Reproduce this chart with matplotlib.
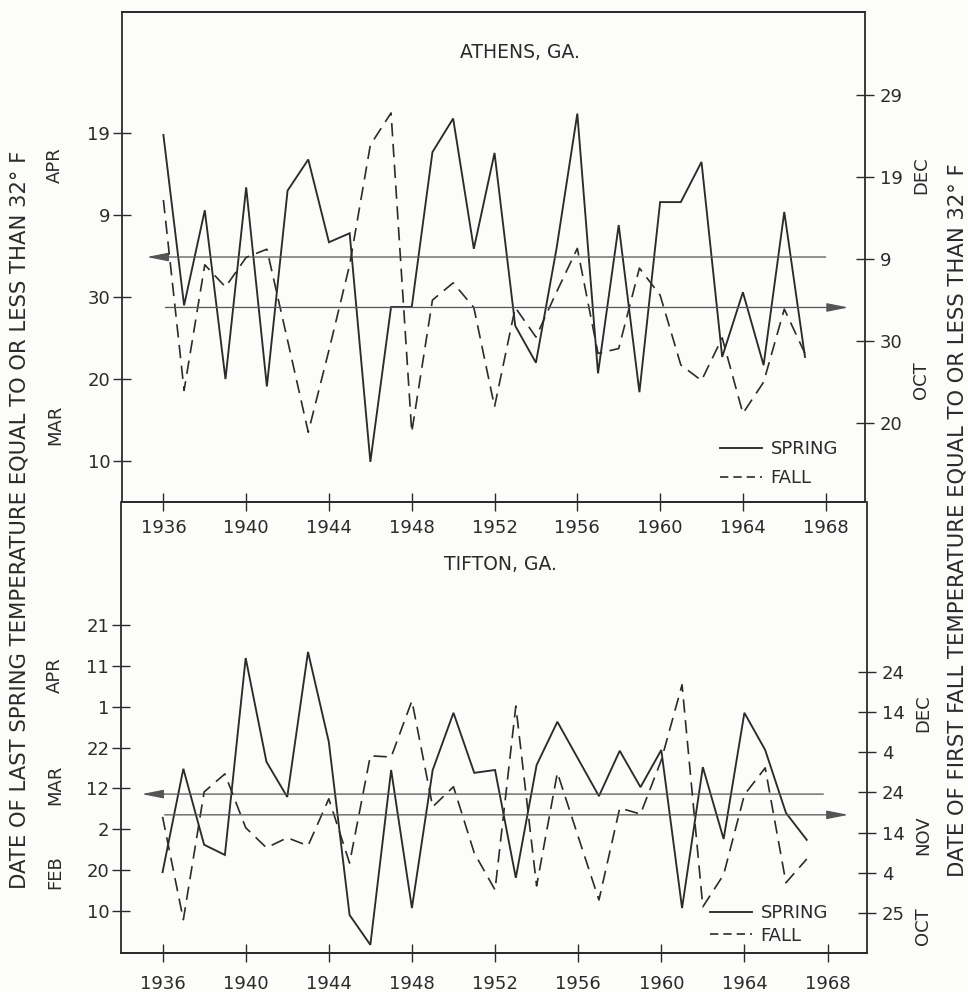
import matplotlib
matplotlib.use("Agg")
import matplotlib.pyplot as plt
from matplotlib.lines import Line2D

# ---------------- data ----------------
years = list(range(1936, 1968))

# Athens: spring = days after Feb 28 (Mar 10 -> 10, Apr 9 -> 40);
#         fall   = days after Sep 30 (Oct 20 -> 20, Nov 9 -> 40)
athens_spring = [49.8, 29.0, 40.6, 20.0, 43.4, 19.1, 43.0, 46.8, 36.7, 37.8,
                 9.9, 28.8, 28.8, 47.7, 51.8, 35.9, 47.6, 26.5, 22.0, 36.0,
                 52.4, 20.7, 38.8, 18.4, 41.6, 41.6, 46.5, 22.7, 30.6, 21.7,
                 40.4, 22.7]
athens_fall = [47.2, 24.0, 39.3, 36.6, 40.2, 41.2, 30.1, 18.9, 28.9, 39.3,
               53.9, 57.8, 18.9, 35.0, 37.1, 34.1, 22.0, 34.1, 30.5, 36.0,
               41.3, 28.5, 29.1, 38.9, 35.6, 27.1, 25.2, 30.4, 21.2, 25.0,
               33.9, 28.5]
athens_spring_mean = 34.9
athens_fall_mean = 34.1

# Tifton: spring = days after Jan 31 (Feb 10 -> 10, Mar 2 -> 30, Apr 1 -> 60);
#         fall   = days after Sep 30 (Oct 25 -> 25, Nov 4 -> 35, Dec 4 -> 65)
tifton_spring = [19.5, 44.8, 26.2, 23.7, 71.9, 46.5, 37.9, 73.4, 51.4, 9.0,
                 1.7, 44.5, 10.7, 44.5, 58.5, 43.8, 44.5, 18.1, 45.7, 56.3,
                 47.2, 38.1, 49.2, 40.3, 49.4, 10.7, 45.2, 27.6, 58.5, 49.4,
                 34.0, 27.4]
tifton_fall = [48.9, 23.3, 55.1, 59.6, 46.2, 41.2, 43.7, 41.7, 53.4, 37.4,
               64.1, 63.8, 77.8, 51.4, 56.4, 39.9, 30.7, 76.5, 31.7, 59.9,
               44.0, 28.2, 51.1, 49.6, 63.0, 81.8, 26.5, 34.5, 54.4, 61.1,
               32.5, 38.4]
tifton_spring_mean = 38.6
tifton_fall_mean = 49.4

x_ticks = [1936, 1940, 1944, 1948, 1952, 1956, 1960, 1964, 1968]

athens_left_ticks = [10, 20, 30, 40, 50]
athens_left_labels = ["10", "20", "30", "9", "19"]
athens_right_ticks = [20, 30, 40, 50, 60]
athens_right_labels = ["20", "30", "9", "19", "29"]

tifton_left_ticks = [10, 20, 30, 40, 50, 60, 70, 80]
tifton_left_labels = ["10", "20", "2", "12", "22", "1", "11", "21"]
tifton_right_ticks = [25, 35, 45, 55, 65, 75, 85]
tifton_right_labels = ["25", "4", "14", "24", "4", "14", "24"]

# ---------------- style ----------------
W, H = 968, 992
INK = "#2b2b2b"
BG = "#fcfcfa"
FS = 13
plt.rcParams["font.family"] = ["DejaVu Sans"]

fig = plt.figure(figsize=(W / 100, H / 100), dpi=100, facecolor=BG)


def fx(px):
    return px / W


def fy(py):
    return 1 - py / H


def make_axes(x0, y0, x1, y1):
    return fig.add_axes([fx(x0), fy(y1), fx(x1) - fx(x0), fy(y0) - fy(y1)])


def style(ax, xpad, show_top=True):
    ax.set_facecolor("none")
    for s in ax.spines.values():
        s.set_color(INK)
        s.set_linewidth(1.3)
    ax.spines["top"].set_visible(show_top)
    ax.tick_params(axis="both", direction="inout", length=13, width=1.0,
                   color=INK, labelcolor=INK, labelsize=FS)
    ax.tick_params(axis="x", pad=xpad, top=False)
    ax.tick_params(axis="y", pad=2)


def panel(x0, y0, x1, y1, ylim_l, ylim_r, spring, fall, sp_mean, fa_mean,
          lt, ll, rt, rl, xpad, show_top, sp_span, fa_span):
    ax = make_axes(x0, y0, x1, y1)
    axr = ax.twinx()
    ax.set_xlim(1934.0, 1969.9)
    ax.set_ylim(*ylim_l)
    axr.set_ylim(*ylim_r)
    style(ax, xpad, show_top)
    style(axr, xpad, show_top)
    axr.spines["left"].set_visible(False)
    ax.spines["right"].set_visible(False)
    ax.set_xticks(x_ticks)
    ax.set_xticklabels([str(v) for v in x_ticks])
    ax.set_yticks(lt)
    ax.set_yticklabels(ll)
    axr.set_yticks(rt)
    axr.set_yticklabels(rl)
    axr.tick_params(axis="y", pad=4)

    ax.plot(years, spring, color=INK, lw=1.35, solid_joinstyle="miter")
    axr.plot(years, fall, color=INK, lw=1.2, linestyle=(0, (8, 4.5)))

    # mean lines with arrows
    ax.annotate("", xy=(sp_span[0], sp_mean), xytext=(sp_span[1], sp_mean),
                arrowprops=dict(arrowstyle="-|>,head_length=1.1,head_width=0.22",
                                color="#555555", lw=0.9, shrinkA=0, shrinkB=0,
                                mutation_scale=12))
    axr.annotate("", xy=(fa_span[1], fa_mean), xytext=(fa_span[0], fa_mean),
                 arrowprops=dict(arrowstyle="-|>,head_length=1.1,head_width=0.22",
                                 color="#555555", lw=0.9, shrinkA=0, shrinkB=0,
                                 mutation_scale=12))
    return ax, axr


ax1, ax1r = panel(122, 12, 865, 502, (5.0, 64.8), (10.4, 70.1),
                  athens_spring, athens_fall, athens_spring_mean, athens_fall_mean,
                  athens_left_ticks, athens_left_labels,
                  athens_right_ticks, athens_right_labels, 6, True,
                  (1935.2, 1968.0), (1936.1, 1969.1))

ax2, ax2r = panel(121, 502, 867, 953, (-0.3, 110.1), (15.0, 127.3),
                  tifton_spring, tifton_fall, tifton_spring_mean, tifton_fall_mean,
                  tifton_left_ticks, tifton_left_labels,
                  tifton_right_ticks, tifton_right_labels, 9, False,
                  (1935.0, 1967.8), (1936.1, 1969.0))

# legends
handles = [Line2D([], [], color=INK, lw=1.35),
           Line2D([], [], color=INK, lw=1.2, linestyle=(0, (5, 3)))]
for (lx, ly, sp) in [(720, 440, 0.6), (710, 904, 0.25)]:
    fig.legend(handles, ["SPRING", "FALL"], loc="upper left",
               bbox_to_anchor=(fx(lx), fy(ly)), bbox_transform=fig.transFigure,
               frameon=False, fontsize=FS, handlelength=2.3, handletextpad=0.5,
               labelspacing=sp, borderpad=0, borderaxespad=0, labelcolor=INK)

# titles
fig.text(fx(520), fy(53), "ATHENS, GA.", ha="center", va="center",
         fontsize=13.5, color=INK)
fig.text(fx(500), fy(565), "TIFTON, GA.", ha="center", va="center",
         fontsize=13.5, color=INK)

# axis titles
fig.text(fx(20), fy(520), "DATE OF LAST SPRING TEMPERATURE EQUAL TO OR LESS THAN 32° F",
         rotation=90, ha="center", va="center", fontsize=15.2, color=INK)
fig.text(fx(957), fy(520), "DATE OF FIRST FALL TEMPERATURE EQUAL TO OR LESS THAN 32° F",
         rotation=90, ha="center", va="center", fontsize=15.2, color=INK)

# month labels
months = [("APR", 55, 165), ("MAR", 55, 425), ("DEC", 921, 175), ("OCT", 921, 380),
          ("APR", 55, 675), ("MAR", 55, 785), ("FEB", 55, 872),
          ("DEC", 923, 713), ("NOV", 923, 835), ("OCT", 923, 926)]
for (t, x, y) in months:
    fig.text(fx(x), fy(y), t, rotation=90, ha="center", va="center",
             fontsize=FS, color=INK)

fig.savefig("out.png", dpi=100, facecolor=BG)
